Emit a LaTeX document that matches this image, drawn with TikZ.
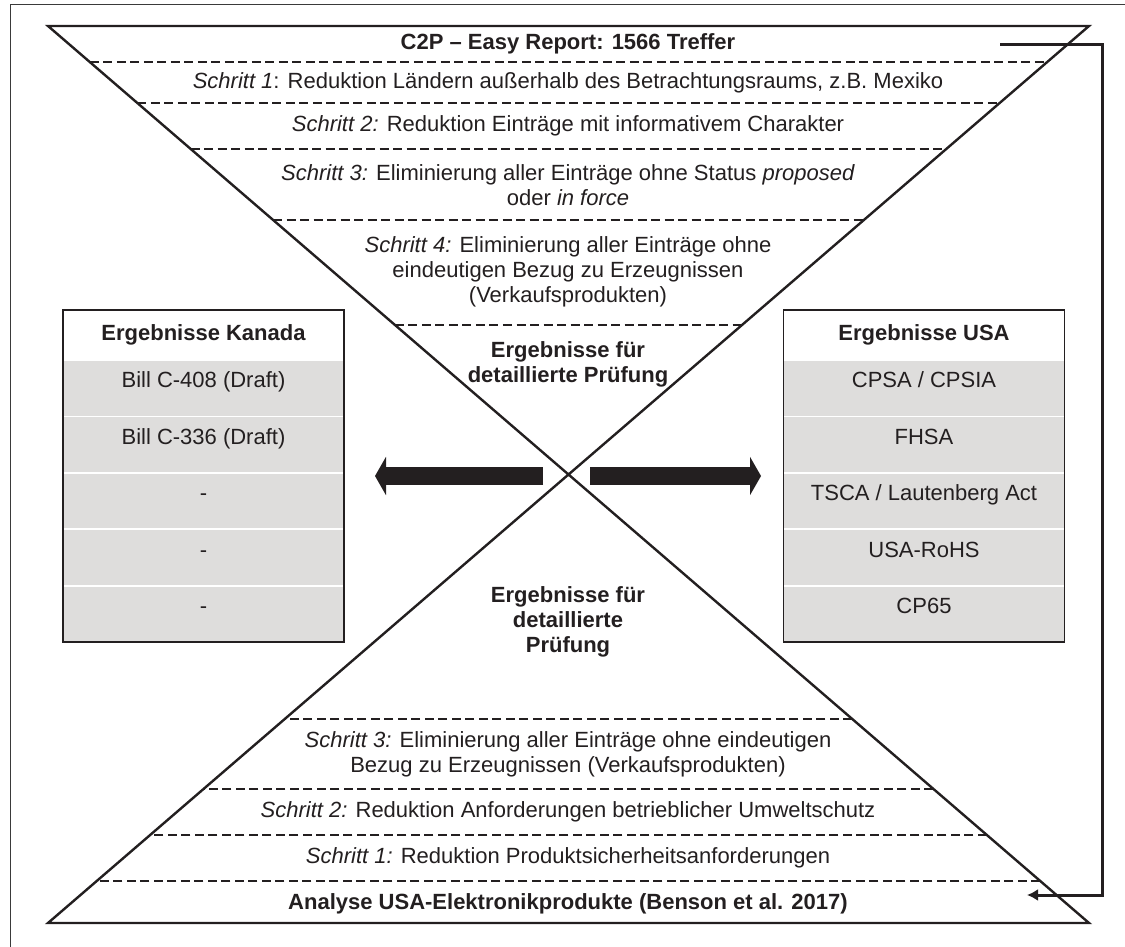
\documentclass[tikz,border=0pt]{standalone}
\usepackage{fontspec}
\setmainfont{Liberation Sans}
\usepackage{tikz}
\usetikzlibrary{arrows.meta,positioning,calc}
\usepackage{xcolor}
\definecolor{colink}{HTML}{231F20}
\definecolor{colrow}{HTML}{DEDDDC}
\definecolor{colframe}{HTML}{3A3A3A}
\newcommand{\bodysize}{\fontsize{22}{25}\selectfont}

\begin{document}
\begin{tikzpicture}[
  x=1pt,y=-1pt,
  font=\bodysize,
  txt/.style={align=center,inner sep=0pt,text=colink},
  bold/.style={txt,font=\bodysize\bfseries},
  head/.style={draw=colink,line width=1.8pt,fill=white,minimum width=281pt,
    minimum height=50pt,inner sep=0pt,outer sep=0pt,font=\bodysize\bfseries,text=colink},
  row/.style={draw=white,line width=1.8pt,fill=colrow,minimum width=281pt,
    minimum height=56.4pt,inner sep=0pt,outer sep=0pt,text=colink,
    text height=16pt,text depth=16.5pt},
  edge/.style={colink,line width=2.4pt},
  cutline/.style={colink,line width=2.3pt,dash pattern=on 9pt off 4.5pt},
  bigarrow/.style={colink,line width=18pt,-{Triangle[length=11pt,width=38pt]}},
  fbline/.style={colink,line width=3pt,-{Latex[length=11pt,width=12pt]}},
]
  \useasboundingbox (0,0) rectangle (1125,947);
  \fill[white] (0,0) rectangle (1125,947);
  \draw[colframe,line width=1.5pt] (10.5,4.5) rectangle (1140,960);

  % ---- Sanduhr ----
  \coordinate (tl) at (48,26);
  \coordinate (tr) at (1089,26);
  \coordinate (bl) at (48,923);
  \coordinate (br) at (1089,923);
  \draw[edge] (tl) -- (tr) -- (bl) -- (br) -- cycle;
  \foreach \yy in {62,103,149,220,325,719,789,835,881}
    \draw[cutline] ($(tl)!{(\yy-26)/897}!(br)$) -- ($(tr)!{(\yy-26)/897}!(bl)$);

  % ---- oberer Teil ----
  \node[bold] (title) at (568,44) {C2P – Easy Report: 1566 Treffer};
  \node[txt] (s1) at (568,83) {\textit{Schritt 1}: Reduktion Ländern außerhalb des Betrachtungsraums, z.B. Mexiko};
  \node[txt] (s2) at (568,126) {\textit{Schritt 2:} Reduktion Einträge mit informativem Charakter};
  \node[txt] (s3) at (568,185) {\textit{Schritt 3:} Eliminierung aller Einträge ohne Status \textit{proposed}\\oder \textit{in force}};
  \node[txt] (s4) at (568,272) {\textit{Schritt 4:} Eliminierung aller Einträge ohne\\eindeutigen Bezug zu Erzeugnissen\\(Verkaufsprodukten)};
  \node[bold] (restop) at (568,364) {Ergebnisse für\\detaillierte Prüfung};

  % ---- unterer Teil ----
  \node[bold] (resbot) at (568,622) {Ergebnisse für\\detaillierte\\Prüfung};
  \node[txt] (u3) at (568,754) {\textit{Schritt 3:} Eliminierung aller Einträge ohne eindeutigen\\Bezug zu Erzeugnissen (Verkaufsprodukten)};
  \node[txt] (u2) at (568,812) {\textit{Schritt 2:} Reduktion Anforderungen betrieblicher Umweltschutz};
  \node[txt] (u1) at (568,858) {\textit{Schritt 1:} Reduktion Produktsicherheitsanforderungen};
  \node[bold] (analyse) at (568,904) {Analyse USA-Elektronikprodukte (Benson et al. 2017)};

  % ---- Rueckfuehrung ----
  \coordinate (fbin) at (1000,45);
  \coordinate (fbout) at (1027,895);
  \draw[fbline] (fbin) -- (1102,45) |- (fbout);

  % ---- Ergebnisse Kanada ----
  \node[head] (kh) at (203.5,335) {Ergebnisse Kanada};
  \node[row,below=0pt of kh] (k1) {Bill C-408 (Draft)};
  \node[row,below=0pt of k1] (k2) {Bill C-336 (Draft)};
  \node[row,below=0pt of k2] (k3) {-};
  \node[row,below=0pt of k3] (k4) {-};
  \node[row,below=0pt of k4] (k5) {-};
  \draw[colink,line width=1.8pt] (kh.north west) rectangle (k5.south east);

  % ---- Ergebnisse USA ----
  \node[head] (uh) at (924,335) {Ergebnisse USA};
  \node[row,below=0pt of uh] (a1) {CPSA / CPSIA};
  \node[row,below=0pt of a1] (a2) {FHSA};
  \node[row,below=0pt of a2] (a3) {TSCA / Lautenberg Act};
  \node[row,below=0pt of a3] (a4) {USA-RoHS};
  \node[row,below=0pt of a4] (a5) {CP65};
  \draw[colink,line width=1.8pt] (uh.north west) rectangle (a5.south east);

  % ---- Pfeile ----
  \coordinate (ltail) at (543,476);
  \coordinate (ltip) at (375,476);
  \coordinate (rtail) at (590,476);
  \coordinate (rtip) at (761,476);
  \draw[bigarrow] (ltail) -- (ltip);
  \draw[bigarrow] (rtail) -- (rtip);
\end{tikzpicture}
\end{document}
